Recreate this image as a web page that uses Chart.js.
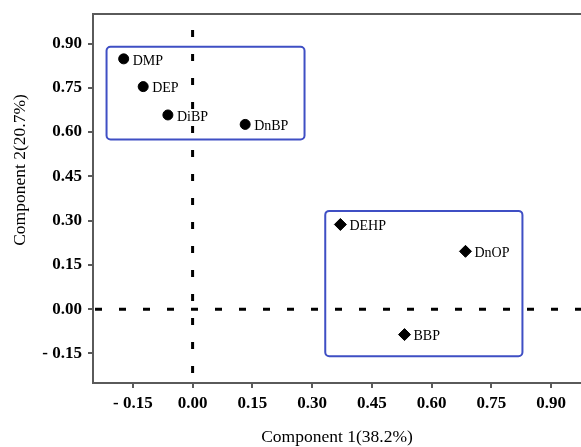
<!DOCTYPE html>
<html>
<head>
<meta charset="utf-8">
<script src="https://cdn.jsdelivr.net/npm/chart.js@4/dist/chart.umd.min.js"></script>
<style>
  html, body { margin: 0; padding: 0; background: #ffffff; }
  #wrap { width: 581px; height: 447px; position: relative; }
</style>
</head>
<body>
<div id="wrap"><canvas id="c" width="581" height="447"></canvas></div>
<script>
// ---- data ----
const groupALabels = ['DMP', 'DEP', 'DiBP', 'DnBP'];
const groupAComp1 = [-0.173, -0.124, -0.062, 0.132];
const groupAComp2 = [0.848, 0.754, 0.658, 0.626];

const groupBLabels = ['DEHP', 'DnOP', 'BBP'];
const groupBComp1 = [0.371, 0.685, 0.532];
const groupBComp2 = [0.287, 0.196, -0.086];

const xTickValues = [-0.15, 0.00, 0.15, 0.30, 0.45, 0.60, 0.75, 0.90];
const yTickValues = [-0.15, 0.00, 0.15, 0.30, 0.45, 0.60, 0.75, 0.90];

const xAxisTitle = 'Component 1(38.2%)';
const yAxisTitle = 'Component 2(20.7%)';

// grouping boxes, in data units: [xMin, xMax, yMin, yMax]
const boxA = [-0.216, 0.281, 0.575, 0.889];
const boxB = [0.333, 0.828, -0.159, 0.333];

// ---- helpers ----
const SERIF = '"Liberation Serif", "Times New Roman", serif';
function fmtTick(v) {
  return v < 0 ? '- ' + Math.abs(v).toFixed(2) : v.toFixed(2);
}
function toPoints(xs, ys) {
  return xs.map((x, i) => ({ x: x, y: ys[i] }));
}

const decorPlugin = {
  id: 'decor',
  beforeDatasetsDraw(chart) {
    const { ctx, chartArea: a, scales: { x, y } } = chart;
    ctx.save();
    // top frame line
    ctx.strokeStyle = '#5a5a5a';
    ctx.lineWidth = 2;
    ctx.beginPath();
    ctx.moveTo(a.left, a.top);
    ctx.lineTo(a.right, a.top);
    ctx.stroke();

    // dashed zero lines
    ctx.strokeStyle = '#000000';
    ctx.lineWidth = 3;
    ctx.setLineDash([7, 17]);
    const x0 = x.getPixelForValue(0);
    const y0 = y.getPixelForValue(0);
    ctx.beginPath();
    ctx.moveTo(x0, a.bottom - 10);
    ctx.lineTo(x0, a.top + 10);
    ctx.stroke();
    ctx.beginPath();
    ctx.moveTo(a.left + 2, y0);
    ctx.lineTo(a.right, y0);
    ctx.stroke();
    ctx.setLineDash([]);

    // grouping boxes
    ctx.strokeStyle = '#3f4fc4';
    ctx.lineWidth = 2;
    [boxA, boxB].forEach(b => {
      const l = x.getPixelForValue(b[0]);
      const r = x.getPixelForValue(b[1]);
      const t = y.getPixelForValue(b[3]);
      const btm = y.getPixelForValue(b[2]);
      ctx.beginPath();
      ctx.roundRect(l, t, r - l, btm - t, 4);
      ctx.stroke();
    });

    // y axis title
    ctx.fillStyle = '#000000';
    ctx.font = '17.5px ' + SERIF;
    ctx.textAlign = 'center';
    ctx.textBaseline = 'middle';
    ctx.translate(20, 170);
    ctx.rotate(-Math.PI / 2);
    ctx.fillText(yAxisTitle, 0, 0);
    ctx.restore();
  },
  afterDatasetsDraw(chart) {
    const { ctx } = chart;
    ctx.save();
    ctx.fillStyle = '#000000';
    ctx.font = '14px ' + SERIF;
    ctx.textAlign = 'left';
    ctx.textBaseline = 'middle';
    chart.data.datasets.forEach((ds, di) => {
      const meta = chart.getDatasetMeta(di);
      meta.data.forEach((pt, i) => {
        ctx.fillText(ds.names[i], pt.x + 9, pt.y + 2);
      });
    });
    ctx.restore();
  }
};

new Chart(document.getElementById('c'), {
  type: 'scatter',
  data: {
    datasets: [
      {
        label: 'Group A',
        names: groupALabels,
        data: toPoints(groupAComp1, groupAComp2),
        pointStyle: 'circle',
        pointRadius: 5,
        pointHoverRadius: 5,
        backgroundColor: '#000000',
        borderColor: '#000000',
        borderWidth: 1
      },
      {
        label: 'Group B',
        names: groupBLabels,
        data: toPoints(groupBComp1, groupBComp2),
        pointStyle: 'rectRot',
        pointRadius: 6,
        pointHoverRadius: 6,
        backgroundColor: '#000000',
        borderColor: '#000000',
        borderWidth: 1
      }
    ]
  },
  options: {
    responsive: false,
    animation: false,
    devicePixelRatio: 1,
    layout: { autoPadding: false, padding: { top: 14, right: 0, left: 0, bottom: 0 } },
    plugins: {
      legend: { display: false },
      tooltip: { enabled: false }
    },
    scales: {
      x: {
        type: 'linear',
        min: -0.25,
        max: 0.975,
        afterBuildTicks: s => { s.ticks = xTickValues.map(v => ({ value: v })); },
        afterFit: s => { s.height = 64; s.paddingLeft = 0; s.paddingRight = 0; },
        grid: { display: true, drawOnChartArea: false, drawTicks: true, tickLength: 5, color: '#5a5a5a', lineWidth: 2 },
        border: { display: true, color: '#5a5a5a', width: 2 },
        ticks: {
          callback: v => fmtTick(v),
          color: '#000000',
          padding: 5,
          maxRotation: 0,
          autoSkip: false,
          font: { family: SERIF, size: 17, weight: 'bold' }
        },
        title: {
          display: true,
          text: xAxisTitle,
          color: '#000000',
          padding: { top: 0, bottom: -1 },
          font: { family: SERIF, size: 17.5 }
        }
      },
      y: {
        type: 'linear',
        min: -0.25,
        max: 1.0,
        afterBuildTicks: s => { s.ticks = yTickValues.map(v => ({ value: v })); },
        afterFit: s => { s.width = 93; s.paddingTop = 0; s.paddingBottom = 0; },
        grid: { display: true, drawOnChartArea: false, drawTicks: true, tickLength: 5, color: '#5a5a5a', lineWidth: 2 },
        border: { display: true, color: '#5a5a5a', width: 2 },
        ticks: {
          callback: v => fmtTick(v),
          color: '#000000',
          padding: 6,
          autoSkip: false,
          font: { family: SERIF, size: 17, weight: 'bold' }
        },
        title: { display: false }
      }
    }
  },
  plugins: [decorPlugin]
});
</script>
</body>
</html>
